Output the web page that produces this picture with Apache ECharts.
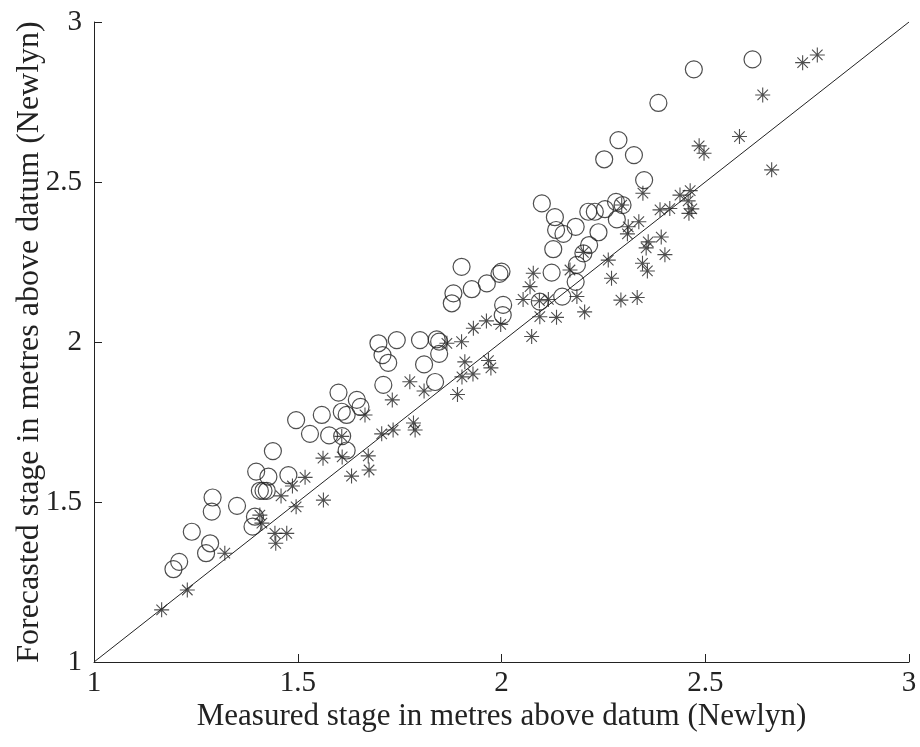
<!DOCTYPE html>
<html>
<head>
<meta charset="utf-8">
<script src="https://cdn.jsdelivr.net/npm/echarts@6/dist/echarts.min.js"></script>
<style>
  html, body { margin: 0; padding: 0; background: #fff; }
  #chart { width: 920px; height: 747px; }
</style>
</head>
<body>
<div id="chart"></div>
<script>
// Measured vs forecasted stage (metres above datum, Newlyn)
// Circle markers: one forecast method
const circleMeasured = [
  1.195, 1.209, 1.240, 1.275, 1.285, 1.291, 1.289, 1.351, 1.395, 1.389,
  1.398, 1.428, 1.477, 1.407, 1.416, 1.424, 1.439, 1.496, 1.530, 1.559,
  1.577, 1.600, 1.608, 1.620, 1.609, 1.620, 1.645, 1.654, 1.698, 1.743,
  1.708, 1.722, 1.710, 1.800, 1.841, 1.847, 1.847, 1.810, 1.837, 1.878,
  1.882, 1.902, 1.927, 1.964, 1.995, 2.000, 2.004, 2.003, 2.094, 2.123,
  2.127, 2.149, 2.185, 2.182, 2.099, 2.131, 2.134, 2.152, 2.182, 2.213,
  2.229, 2.254, 2.281, 2.297, 2.283, 2.238, 2.215, 2.201, 2.287, 2.252,
  2.325, 2.350, 2.385, 2.472, 2.616
];
const circleForecast = [
  1.290, 1.313, 1.407, 1.340, 1.371, 1.514, 1.470, 1.488, 1.454, 1.423,
  1.595, 1.579, 1.584, 1.535, 1.535, 1.535, 1.659, 1.756, 1.713, 1.772,
  1.708, 1.842, 1.782, 1.772, 1.706, 1.661, 1.819, 1.797, 1.996, 2.006,
  1.959, 1.935, 1.866, 2.006, 2.008, 2.001, 1.963, 1.930, 1.875, 2.121,
  2.152, 2.235, 2.165, 2.183, 2.213, 2.220, 2.116, 2.084, 2.126, 2.217,
  2.290, 2.142, 2.241, 2.188, 2.433, 2.390, 2.350, 2.338, 2.360, 2.407,
  2.407, 2.415, 2.438, 2.428, 2.383, 2.343, 2.303, 2.277, 2.631, 2.571,
  2.584, 2.506, 2.747, 2.852, 2.883
];

// Asterisk markers: the other forecast method
const starMeasured = [
  1.166, 1.229, 1.321, 1.407, 1.412, 1.444, 1.473, 1.446, 1.459, 1.487,
  1.496, 1.518, 1.562, 1.563, 1.608, 1.609, 1.632, 1.665, 1.673, 1.675,
  1.706, 1.734, 1.732, 1.775, 1.784, 1.788, 1.810, 1.866, 1.902, 1.892,
  1.910, 1.903, 1.930, 1.968, 1.974, 1.931, 1.963, 1.998, 2.053, 2.070,
  2.078, 2.093, 2.115, 2.094, 2.135, 2.074, 2.168, 2.185, 2.204, 2.201,
  2.262, 2.270, 2.293, 2.333, 2.295, 2.311, 2.309, 2.337, 2.347, 2.360,
  2.355, 2.392, 2.401, 2.346, 2.358, 2.389, 2.413, 2.438, 2.463, 2.458,
  2.467, 2.460, 2.485, 2.497, 2.584, 2.641, 2.663, 2.739, 2.775
];
const starForecast = [
  1.163, 1.225, 1.340, 1.459, 1.434, 1.402, 1.402, 1.371, 1.519, 1.550,
  1.485, 1.577, 1.637, 1.506, 1.705, 1.641, 1.581, 1.772, 1.644, 1.600,
  1.713, 1.725, 1.819, 1.876, 1.747, 1.725, 1.847, 1.996, 2.001, 1.836,
  1.938, 1.891, 1.900, 1.942, 1.919, 2.043, 2.066, 2.055, 2.133, 2.173,
  2.215, 2.129, 2.133, 2.079, 2.077, 2.017, 2.225, 2.142, 2.094, 2.280,
  2.256, 2.199, 2.131, 2.139, 2.428, 2.360, 2.338, 2.376, 2.465, 2.313,
  2.294, 2.328, 2.273, 2.246, 2.222, 2.413, 2.417, 2.459, 2.473, 2.441,
  2.416, 2.402, 2.613, 2.590, 2.642, 2.772, 2.538, 2.873, 2.897
];

// Perfect-agreement reference line
const lineEnds = [1, 3];

// Axis ticks
const tickValues = [1, 1.5, 2, 2.5, 3];
const xTitle = 'Measured stage in metres above datum (Newlyn)';
const yTitle = 'Forecasted stage in metres above datum (Newlyn)';

const zip = (a, b) => a.map((v, i) => [v, b[i]]);

const ink = '#222';
const font = '"Liberation Serif", "Times New Roman", serif';

// 8-armed asterisk drawn as stroked lines
const asterisk = 'path://M0,-10L0,10M-10,0L10,0M-7,-7L7,7M-7,7L7,-7';

const chart = echarts.init(document.getElementById('chart'), null, { renderer: 'canvas' });

const axisCommon = {
  type: 'value',
  min: tickValues[0],
  max: tickValues[tickValues.length - 1],
  interval: 0.5,
  axisLine: { show: true, onZero: false, lineStyle: { color: ink, width: 1 } },
  axisTick: { show: true, inside: true, length: 8, lineStyle: { color: ink, width: 1 } },
  splitLine: { show: false },
  axisLabel: {
    color: ink,
    fontFamily: font,
    fontSize: 29,
    formatter: v => String(v)
  },
  nameLocation: 'middle',
  nameMoveOverlap: false
};

chart.setOption({
  animation: false,
  backgroundColor: '#fff',
  grid: {
    left: 94, right: 11, top: 22, bottom: 85,
    containLabel: false,
    outerBoundsMode: 'none'
  },
  xAxis: Object.assign({}, axisCommon, {
    name: xTitle,
    nameGap: 39,
    nameTextStyle: { color: ink, fontFamily: font, fontSize: 31 },
    axisLabel: Object.assign({}, axisCommon.axisLabel, { margin: 7 })
  }),
  yAxis: Object.assign({}, axisCommon, {
    name: yTitle,
    nameGap: 48,
    nameTextStyle: { color: ink, fontFamily: font, fontSize: 32 },
    axisLabel: Object.assign({}, axisCommon.axisLabel, { margin: 12 })
  }),
  series: [
    {
      type: 'line',
      data: zip(lineEnds, lineEnds),
      showSymbol: false,
      symbol: 'none',
      lineStyle: { color: ink, width: 1 },
      silent: true,
      z: 1
    },
    {
      type: 'scatter',
      data: zip(circleMeasured, circleForecast),
      symbol: 'circle',
      symbolSize: 17,
      itemStyle: { color: 'rgba(0,0,0,0)', borderColor: ink, borderWidth: 1.2 },
      z: 2
    },
    {
      type: 'scatter',
      data: zip(starMeasured, starForecast),
      symbol: asterisk,
      symbolSize: 15,
      itemStyle: { color: 'rgba(0,0,0,0)', borderColor: ink, borderWidth: 1.1 },
      z: 3
    }
  ]
});
</script>
</body>
</html>
